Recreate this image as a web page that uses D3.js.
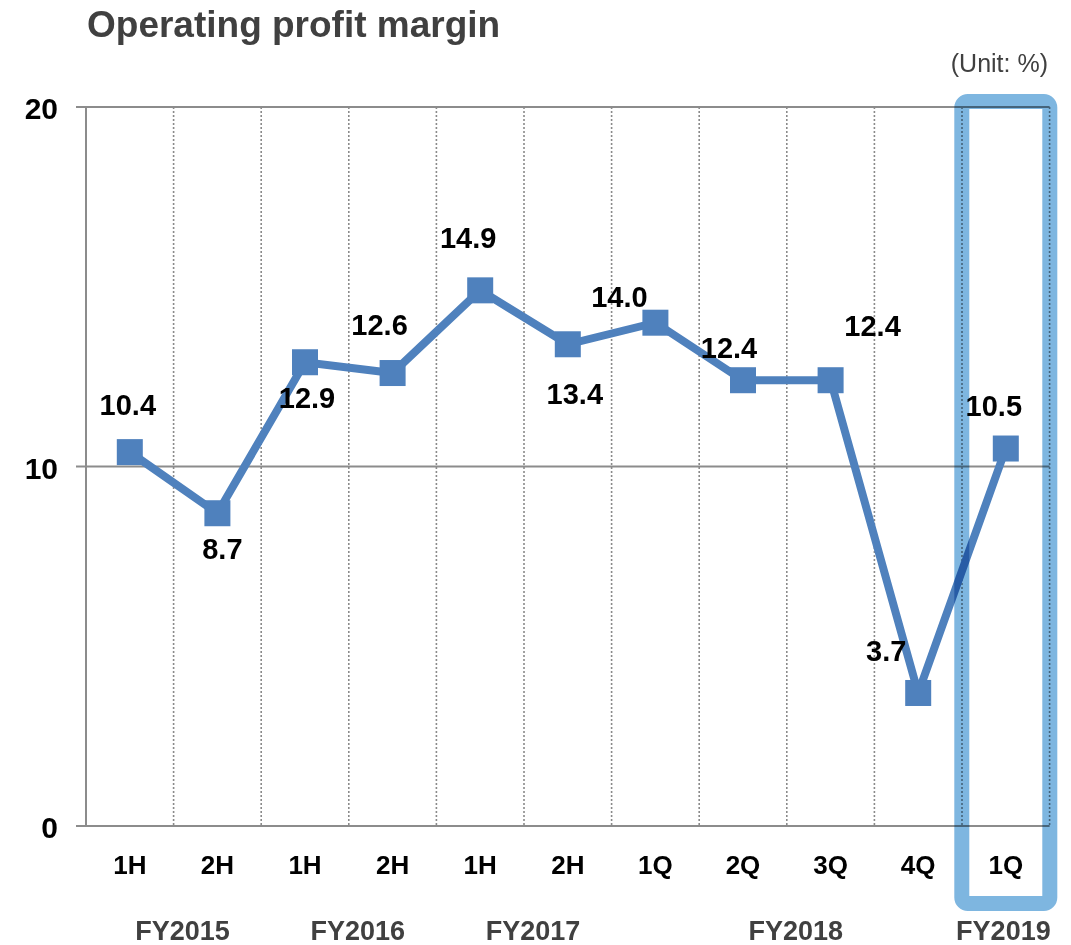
<!DOCTYPE html>
<html>
<head>
<meta charset="utf-8">
<script src="https://cdn.jsdelivr.net/npm/d3@7"></script>
<style>
  html, body { margin: 0; padding: 0; background: #ffffff; }
  svg { display: block; font-family: "Liberation Sans", Arial, sans-serif; }
</style>
</head>
<body>
<svg id="chart" width="1071" height="945"></svg>
<script>
// ---- data ----
const categories = ["1H", "2H", "1H", "2H", "1H", "2H", "1Q", "2Q", "3Q", "4Q", "1Q"];
const margins = [10.4, 8.7, 12.9, 12.6, 14.9, 13.4, 14.0, 12.4, 12.4, 3.7, 10.5];
const valueLabels = ["10.4", "8.7", "12.9", "12.6", "14.9", "13.4", "14.0", "12.4", "12.4", "3.7", "10.5"];
const fiscalYears = ["FY2015", "FY2016", "FY2017", "FY2018", "FY2019"];
const yTicks = [0, 10, 20];
const titleText = "Operating profit margin";
const unitText = "(Unit: %)";

// ---- styling / placement (not data) ----
// label offsets relative to each marker (dx, dy of text centre)
const labelOffsets = [[-2,-48],[5,35],[2,35],[-13,-49],[-12,-53],[7,49],[-36,-26],[-14,-33],[42,-55],[-32,-42],[-12,-43]];
// FY label centre, in category-band units from the left edge of the plot
const fyPositions = [1.0, 3.0, 5.0, 8.0, 10.37];
const highlightIndex = 10;

const svg = d3.select("#chart");
const plot = { left: 86, right: 1049.6, top: 107, bottom: 826 };
const blue = "#4F81BD";
const grid = "#8c8c8c";

const x = d3.scaleBand().domain(d3.range(categories.length)).range([plot.left, plot.right]).padding(0);
const y = d3.scaleLinear().domain([0, 20]).range([plot.bottom, plot.top]);
const cx = i => x(i) + x.bandwidth() / 2;

// title & unit
svg.append("text").attr("x", 87).attr("y", 37).attr("font-size", 37).attr("font-weight", "bold")
  .attr("fill", "#404040").text(titleText);
svg.append("text").attr("x", 1048).attr("y", 72).attr("text-anchor", "end").attr("font-size", 25)
  .attr("fill", "#404040").text(unitText);

// vertical dotted gridlines at category boundaries
svg.append("g").selectAll("line").data(d3.range(1, categories.length + 1)).join("line")
  .attr("x1", i => i < categories.length ? x(i) : plot.right)
  .attr("x2", i => i < categories.length ? x(i) : plot.right)
  .attr("y1", plot.top).attr("y2", plot.bottom)
  .attr("stroke", "#8a8a8a").attr("stroke-width", 1.6).attr("stroke-dasharray", "2,2");

// horizontal gridlines + ticks
svg.append("g").selectAll("line").data(yTicks).join("line")
  .attr("x1", plot.left - 10).attr("x2", plot.right)
  .attr("y1", d => y(d)).attr("y2", d => y(d))
  .attr("stroke", grid).attr("stroke-width", 2);

// left axis line
svg.append("line").attr("x1", plot.left).attr("x2", plot.left)
  .attr("y1", plot.top).attr("y2", plot.bottom).attr("stroke", grid).attr("stroke-width", 2);

// y tick labels
svg.append("g").selectAll("text").data(yTicks).join("text")
  .attr("x", 58).attr("y", d => y(d) + 12).attr("text-anchor", "end")
  .attr("font-size", 30).attr("font-weight", "bold").attr("fill", "#000").text(d => d);

// category labels
svg.append("g").selectAll("text").data(categories).join("text")
  .attr("x", (d, i) => cx(i)).attr("y", 874).attr("text-anchor", "middle")
  .attr("font-size", 26).attr("font-weight", "bold").attr("fill", "#000").text(d => d);

// fiscal year labels
svg.append("g").selectAll("text").data(fiscalYears).join("text")
  .attr("x", (d, i) => plot.left + fyPositions[i] * x.bandwidth() + 9).attr("y", 940)
  .attr("text-anchor", "middle").attr("font-size", 27).attr("font-weight", "bold")
  .attr("fill", "#404040").text(d => d);

// line
const line = d3.line().x((d, i) => cx(i)).y(d => y(d));
svg.append("path").datum(margins).attr("d", line).attr("fill", "none")
  .attr("stroke", blue).attr("stroke-width", 8).attr("stroke-linejoin", "miter");

// markers
const ms = 26;
svg.append("g").selectAll("rect").data(margins).join("rect")
  .attr("x", (d, i) => cx(i) - ms / 2).attr("y", d => y(d) - ms / 2)
  .attr("width", ms).attr("height", ms).attr("fill", blue);

// value labels
svg.append("g").selectAll("text").data(margins).join("text")
  .attr("x", (d, i) => cx(i) + labelOffsets[i][0])
  .attr("y", (d, i) => y(d) + labelOffsets[i][1] + 10.5)
  .attr("text-anchor", "middle").attr("font-size", 29).attr("font-weight", "bold")
  .attr("fill", "#000").text((d, i) => valueLabels[i]);

// highlight box around latest quarter
const hb = x(highlightIndex);
svg.append("rect")
  .attr("x", hb + x.bandwidth() / 2 - 44).attr("y", 101.5)
  .attr("width", 88).attr("height", 802)
  .attr("rx", 6).attr("ry", 6)
  .attr("fill", "none").attr("stroke", "#7EB6E0").attr("stroke-width", 15)
  .style("mix-blend-mode", "multiply");
</script>
</body>
</html>
